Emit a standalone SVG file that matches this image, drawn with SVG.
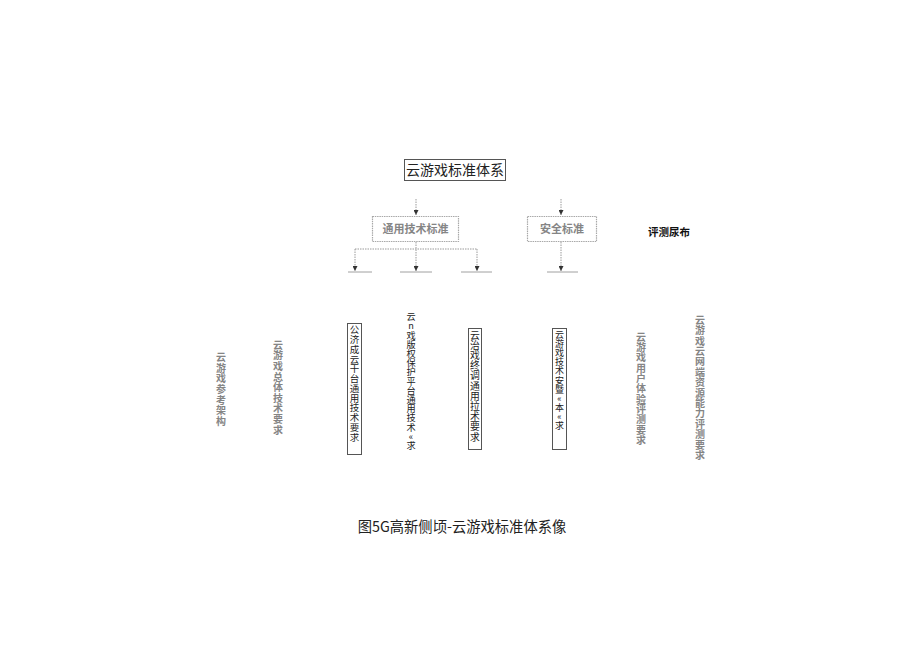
<svg xmlns="http://www.w3.org/2000/svg" width="920" height="651" viewBox="0 0 920 651">
<style>
.bg{fill:#fff}
.conn{stroke:#9a9a9a;stroke-width:1;stroke-dasharray:1.5 1;fill:none}
.base{stroke:#a0a0a0;stroke-width:1;fill:none}
.gbox{fill:#fff;stroke:#a8a8a8;stroke-width:1.2;stroke-dasharray:1.5 0.8}
.kbox{fill:none;stroke:#555;stroke-width:1}
.gray{fill:#858585;font-family:"Noto Sans CJK SC",sans-serif;font-weight:bold}
.blk{fill:#222;font-family:"Noto Sans CJK SC",sans-serif}
</style>
<defs>
<marker id="ah" viewBox="0 0 6 6" refX="6" refY="3" markerWidth="5" markerHeight="5" orient="auto" markerUnits="userSpaceOnUse">
<path d="M0,0 L6,3 L0,6 z" fill="#333"/>
</marker>
</defs>
<rect class="bg" x="0" y="0" width="920" height="651"/>

<g id="connectors">
<line class="conn" x1="416" y1="199" x2="416" y2="215" marker-end="url(#ah)"/>
<line class="conn" x1="561" y1="199" x2="561" y2="215" marker-end="url(#ah)"/>
<line class="conn" x1="416" y1="242" x2="416" y2="271" marker-end="url(#ah)"/>
<line class="conn" x1="355" y1="249" x2="477" y2="249"/>
<line class="conn" x1="355" y1="249" x2="355" y2="271" marker-end="url(#ah)"/>
<line class="conn" x1="477" y1="249" x2="477" y2="271" marker-end="url(#ah)"/>
<line class="conn" x1="561" y1="242" x2="561" y2="271" marker-end="url(#ah)"/>
<line class="base" x1="348" y1="272" x2="372" y2="272"/>
<line class="base" x1="400" y1="272" x2="432" y2="272"/>
<line class="base" x1="461" y1="272" x2="492" y2="272"/>
<line class="base" x1="547" y1="272" x2="578" y2="272"/>
</g>

<g id="root">
<rect class="kbox" x="404.5" y="159.5" width="101" height="21"/>
<text x="455" y="175" text-anchor="middle" font-family="Noto Sans CJK SC, sans-serif" font-size="14" fill="#222">云游戏标准体系</text>
</g>

<g id="general">
<rect class="gbox" x="372.5" y="216.5" width="86" height="25"/>
<text x="415.5" y="233" text-anchor="middle" class="gray" font-size="11">通用技术标准</text>
</g>

<g id="security">
<rect class="gbox" x="527.5" y="216.5" width="69" height="25"/>
<text x="562" y="233" text-anchor="middle" class="gray" font-size="11">安全标准</text>
</g>

<g id="eval">
<text x="669" y="236" text-anchor="middle" font-family="Noto Sans CJK SC, sans-serif" font-weight="bold" font-size="10.5" fill="#111">评测尿布</text>
</g>

<g id="n1">
<text class="gray" font-size="10" text-anchor="middle" x="221 221 221 221 221 221 221" y="360.8 371.5 382.2 392.9 403.6 414.3 425">云游戏参考架构</text>
</g>
<g id="n2">
<text class="gray" font-size="10" text-anchor="middle" x="278 278 278 278 278 278 278 278 278" y="348.8 359.4 370 380.6 391.2 401.8 412.4 423 433.6">云游戏总体技术要求</text>
</g>
<g id="n3">
<rect class="kbox" x="347.5" y="323.5" width="14" height="131"/>
<text class="blk" font-size="9.5" text-anchor="middle" x="354.5 354.5 354.5 354.5 354.5 354.5 354.5 354.5 354.5 354.5 354.5 354.5" y="333.4 343.2 352.9 362.7 372.4 382.2 391.9 401.7 411.4 421.2 430.9 440.7">公济成云干台通用技术要求</text>
</g>
<g id="n4">
<text class="blk" font-size="9.2" text-anchor="middle" x="411 411 411 411 411 411 411 411 411 411 411 411 411 411 411" y="320.1 329.3 338.5 347.7 356.9 366.1 375.3 384.5 393.7 402.9 412.1 421.3 430.5 439.7 448.9">云n戏版权保护平台通用技术«求</text>
</g>
<g id="n5">
<rect class="kbox" x="468.5" y="328.5" width="13" height="121"/>
<text class="blk" font-size="9.8" text-anchor="middle" x="475 475 475 475 475 475 475 475 475 475 475" y="338.6 348.8 359 369.2 379.4 389.6 399.8 410 420.2 430.4 440.6">云治戏终调通用拉术要求</text>
</g>
<g id="n6">
<rect class="kbox" x="552.5" y="328.5" width="14" height="121"/>
<text class="blk" font-size="9" text-anchor="middle" x="559.5 559.5 559.5 559.5 559.5 559.5 559.5 559.5 559.5 559.5 559.5" y="338 347.1 356.2 365.3 374.4 383.5 392.6 401.7 410.8 419.9 429">云游戏技术安暨«本«求</text>
</g>
<g id="n7">
<text class="gray" font-size="10" text-anchor="middle" x="641 641 641 641 641 641 641 641 641 641 641" y="340.8 351.1 361.4 371.7 382 392.3 402.6 412.9 423.2 433.5 443.8">云游戏用户体验评测要求</text>
</g>
<g id="n8">
<text class="gray" font-size="10" text-anchor="middle" x="700 700 700 700 700 700 700 700 700 700 700 700 700 700" y="323.8 334.2 344.6 355 365.4 375.8 386.2 396.6 407 417.4 427.8 438.2 448.6 459">云游戏云网端资源能力评测要求</text>
</g>

<g id="caption">
<text x="462" y="532" text-anchor="middle" font-family="Noto Sans CJK SC, sans-serif" font-size="14.3" fill="#222">图5G高新侧顷-云游戏标准体系像</text>
</g>
</svg>
